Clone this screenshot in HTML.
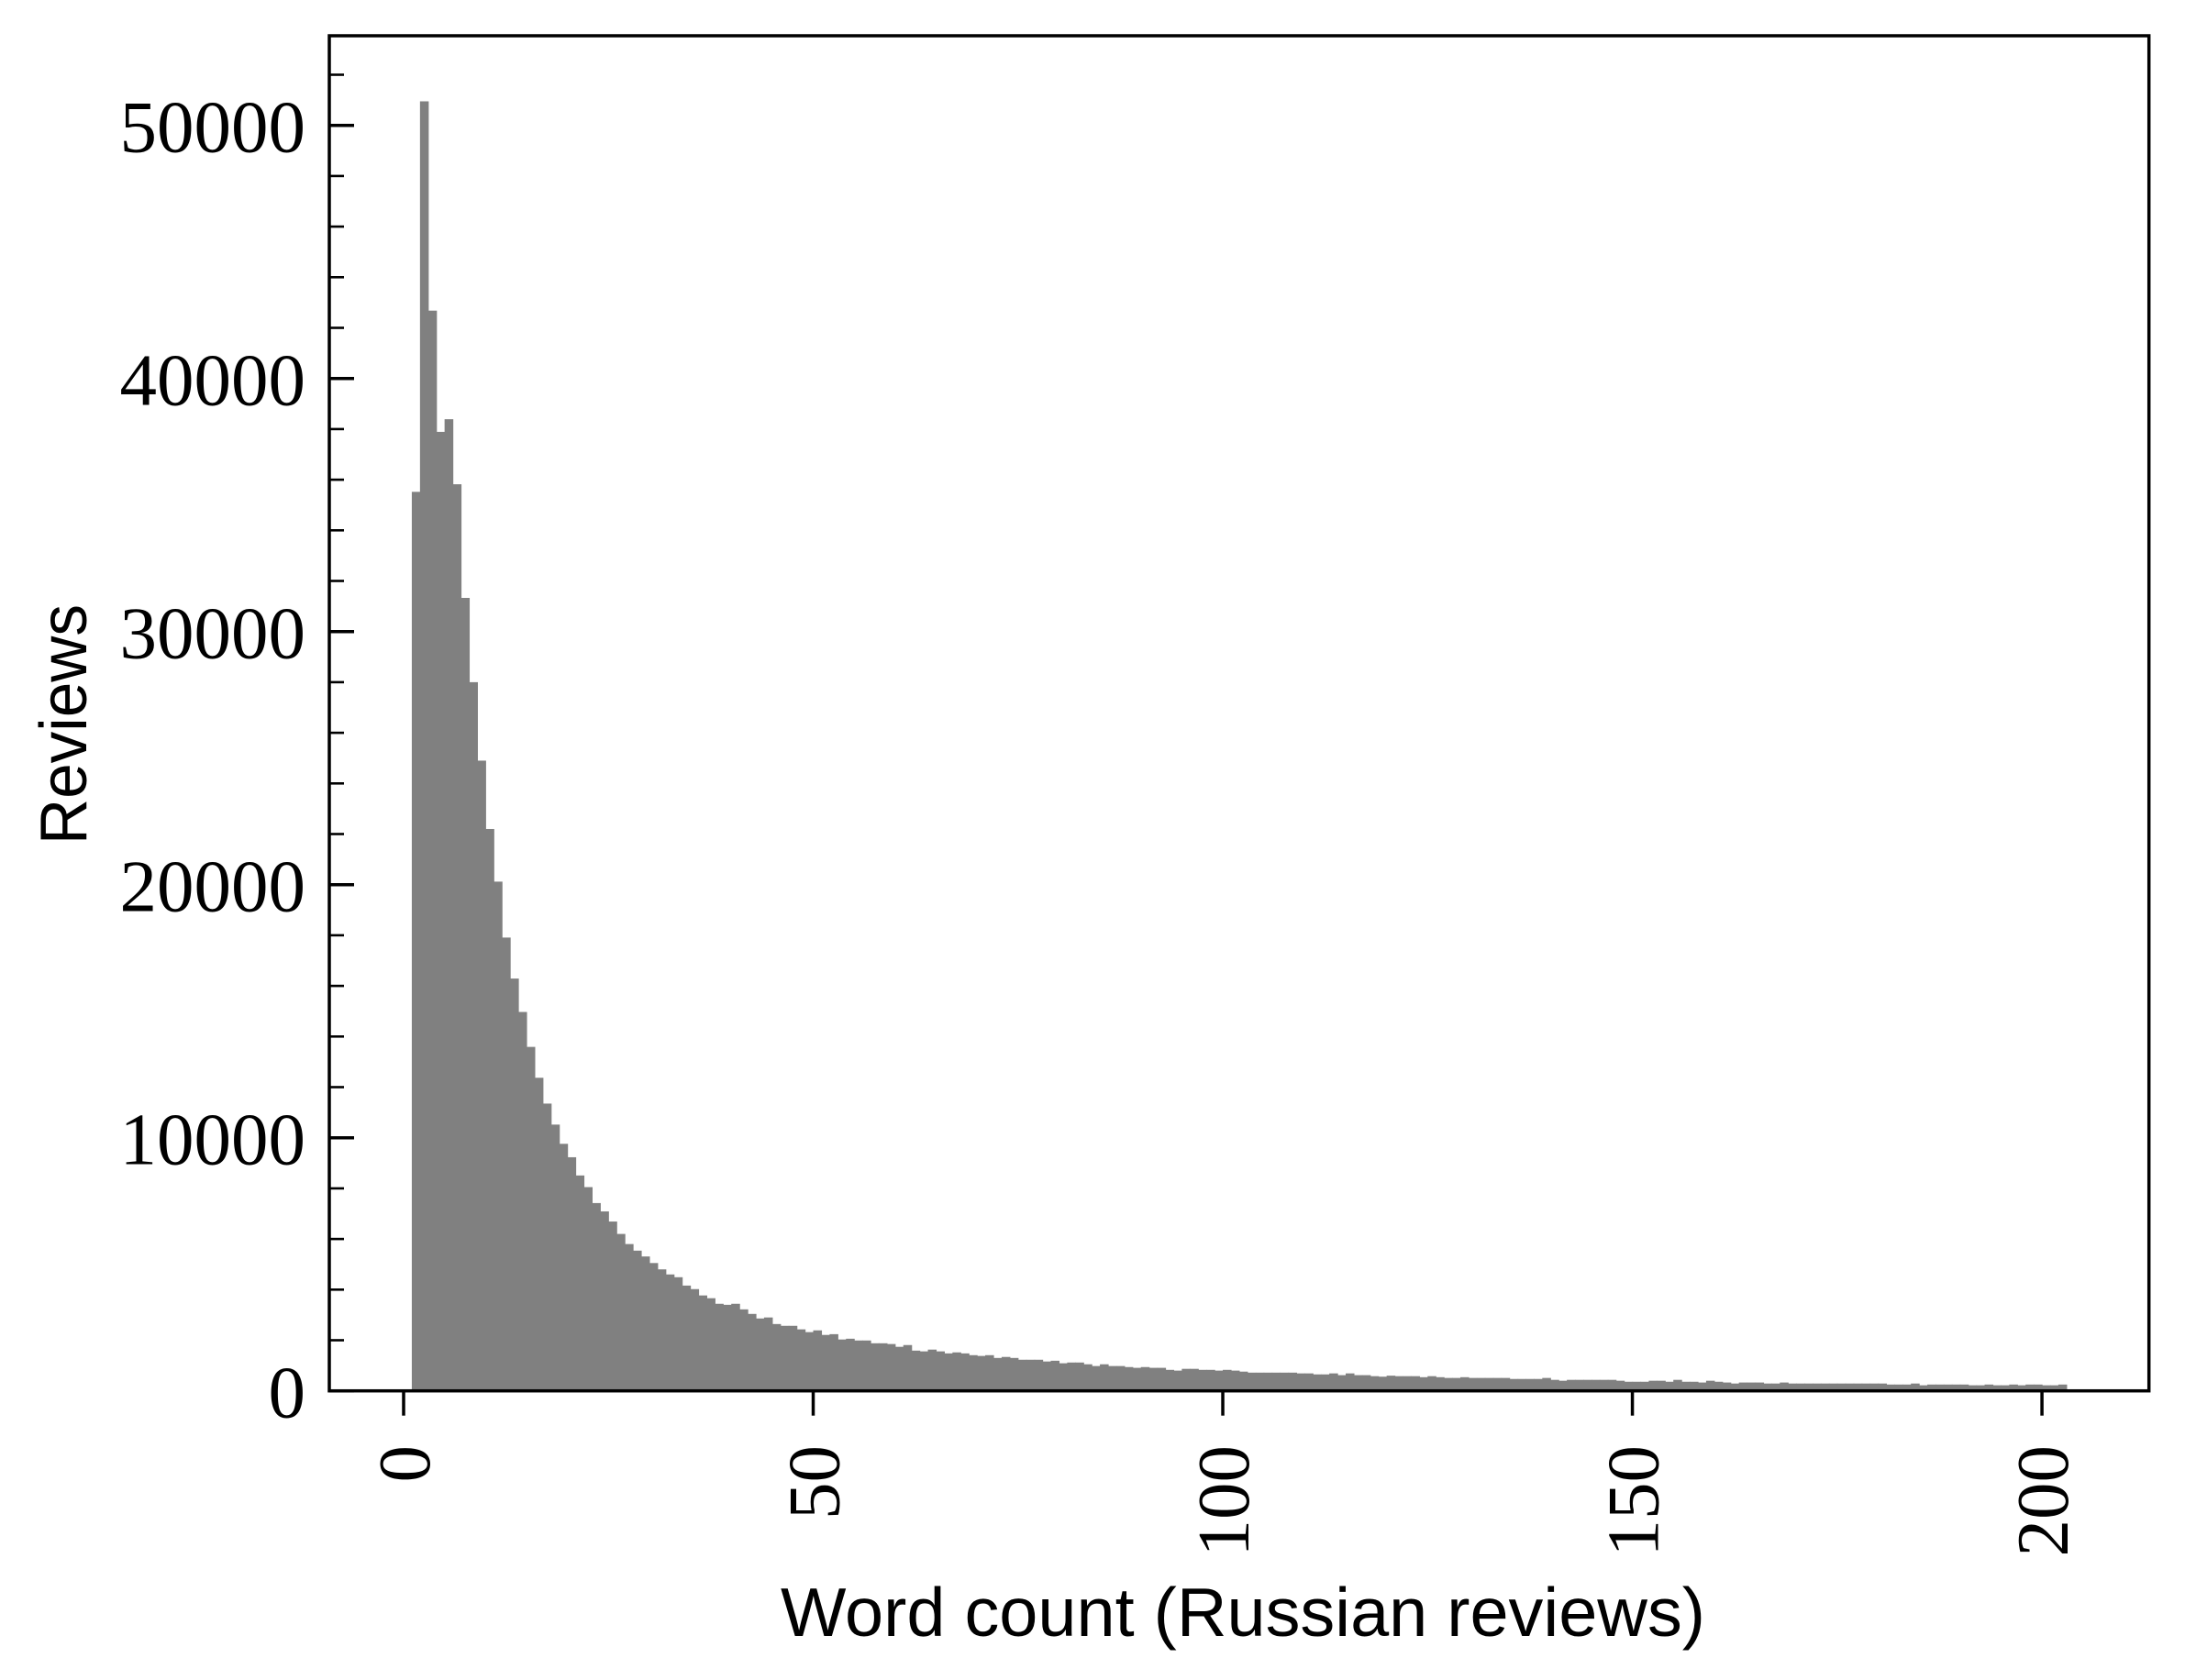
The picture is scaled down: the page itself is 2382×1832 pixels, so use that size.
<!DOCTYPE html>
<html><head><meta charset="utf-8"><style>
body{margin:0;background:#fff}
svg{display:block}
</style></head><body>
<svg id="chart" width="2382" height="1832" viewBox="0 0 2382 1832" xmlns="http://www.w3.org/2000/svg">
<rect x="0" y="0" width="2382" height="1832" fill="#fff"/>
<g id="bars"></g>
<g id="axes"></g>
<text x="1355" y="1784" text-anchor="middle" font-family="Liberation Sans, sans-serif" font-size="75" textLength="1008" lengthAdjust="spacingAndGlyphs">Word count (Russian reviews)</text>
<text transform="translate(94,790) rotate(-90)" text-anchor="middle" font-family="Liberation Sans, sans-serif" font-size="72" textLength="262" lengthAdjust="spacingAndGlyphs">Reviews</text>
</svg>
<script>
const binStart = 1;
const binWidth = 1;
const counts = [
35520,50950,42680,37890,38390,35820,31330,28000,24900,22200,
20120,17910,16290,14970,13590,12370,11350,10520,9760,9230,
8510,8050,7420,7090,6690,6200,5800,5540,5310,5050,
4800,4600,4490,4160,4020,3770,3660,3440,3400,3440,
3220,3040,2860,2900,2640,2570,2570,2430,2320,2390,
2210,2240,2030,2060,1990,1990,1880,1880,1850,1740,
1810,1590,1560,1630,1560,1480,1520,1480,1410,1380,
1410,1300,1340,1300,1230,1230,1230,1160,1190,1090,
1120,1120,1050,980,1050,980,980,940,910,940,
910,910,830,800,870,870,830,830,800,830,
800,760,720,720,720,720,720,720,690,690,
650,650,690,620,690,620,620,580,560,600,
580,580,580,540,580,540,510,510,540,510,
510,510,510,510,470,470,470,470,510,435,
400,435,435,435,435,435,435,400,360,360,
360,400,400,360,435,360,360,330,400,360,
330,290,330,330,330,290,290,330,290,290,
290,290,290,290,290,290,290,290,290,290,
250,250,250,290,220,250,250,250,250,250,
220,220,250,220,220,250,220,250,250,220,
220,250
];
const xTicks = [0,50,100,150,200];
const yTicks = [0,10000,20000,30000,40000,50000];
const yMinorStep = 2000;

const X0 = 359, X1 = 2342.7, Y0 = 1516.7, Y1 = 39;
const xMin = -9.07, xMax = 213.06, yMin = 0, yMax = 53540;
const NS = 'http://www.w3.org/2000/svg';
function sx(v){return X0 + (v - xMin) / (xMax - xMin) * (X1 - X0);}
function sy(v){return Y0 - (v - yMin) / (yMax - yMin) * (Y0 - Y1);}
function mk(tag, attrs){const e=document.createElementNS(NS,tag);for(const k in attrs)e.setAttribute(k,attrs[k]);return e;}

const bars = document.getElementById('bars');
counts.forEach((c,i)=>{
  const a = binStart + i*binWidth, b = a + binWidth;
  const r = mk('rect',{x:sx(a),y:sy(c),width:sx(b)-sx(a)+0.6,height:sy(0)-sy(c),fill:'#808080'});
  
  
  bars.appendChild(r);
});

const axes = document.getElementById('axes');
const frame = mk('rect',{x:X0,y:Y1,width:X1-X0,height:Y0-Y1,fill:'none',stroke:'#000','stroke-width':3.5});


axes.appendChild(frame);

for(let v=0; v<=yMax; v+=yMinorStep){
  const major = v % 10000 === 0;
  const t = mk('line',{x1:X0,x2:X0+(major?27:16),y1:sy(v),y2:sy(v),stroke:'#000','stroke-width':major?3.5:2.6});
  
  
  axes.appendChild(t);
}
yTicks.forEach(v=>{
  const t = mk('text',{x:333,y:sy(v)+29,'text-anchor':'end','font-family':'Liberation Serif, serif','font-size':81});
  t.textContent = String(v);
  
  
  axes.appendChild(t);
});
xTicks.forEach(v=>{
  const x = sx(v);
  const l = mk('line',{x1:x,x2:x,y1:Y0,y2:Y0+27,stroke:'#000','stroke-width':3.5});
  
  
  axes.appendChild(l);
  const t = mk('text',{transform:'translate('+(x+28)+',1576) rotate(-90)','text-anchor':'end','font-family':'Liberation Serif, serif','font-size':81});
  t.textContent = String(v);
  
  
  axes.appendChild(t);
});
</script>
</body></html>
